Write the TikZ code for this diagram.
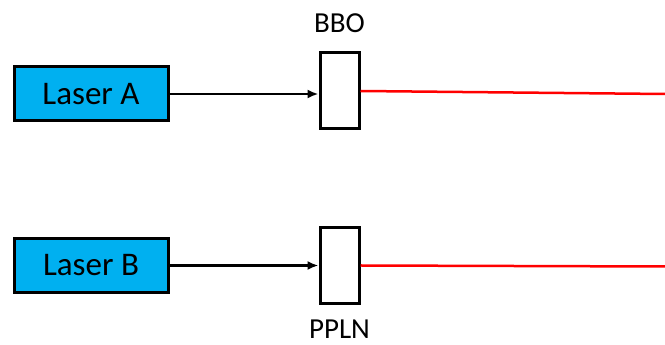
\documentclass[tikz,border=0pt]{standalone}
\usepackage{fontspec}
\setmainfont{Carlito}
\usetikzlibrary{arrows.meta}
\definecolor{laserblue}{HTML}{00B0F0}
\begin{document}
\begin{tikzpicture}[x=1pt, y=1pt,
  laserbox/.style={draw, line width=3pt, fill=laserblue, minimum width=154pt, minimum height=54pt, inner sep=0pt, font=\fontsize{33}{40}\selectfont},
  crystal/.style={draw, line width=3pt, fill=white, minimum width=39pt, minimum height=76pt, inner sep=0pt},
  pump/.style={line width=2.5pt, -{Latex[length=11pt, width=9pt]}},
  beam/.style={line width=2.5pt, red},
  tag/.style={font=\fontsize{29}{35}\selectfont, inner sep=1pt}]
\useasboundingbox (0,0) rectangle (665,345);
\node[laserbox] (laserA) at (91,251) {Laser A};
\node[crystal] (bbo) at (339.5,254) {};
\node[tag] (bbolabel) at (339.5,322) {BBO};
\coordinate (endA) at (665,251);
\draw[pump] (laserA.east) -- (laserA.east -| bbo.west);
\draw[beam] (bbo.east) -- (endA);
\node[laserbox] (laserB) at (91,79.5) {Laser B};
\node[crystal] (ppln) at (339.5,79.5) {};
\node[tag] (ppln label) at (339.5,16) {PPLN};
\coordinate (endB) at (665,78.5);
\draw[pump] (laserB.east) -- (laserB.east -| ppln.west);
\draw[beam] (ppln.east) -- (endB);
\end{tikzpicture}
\end{document}
